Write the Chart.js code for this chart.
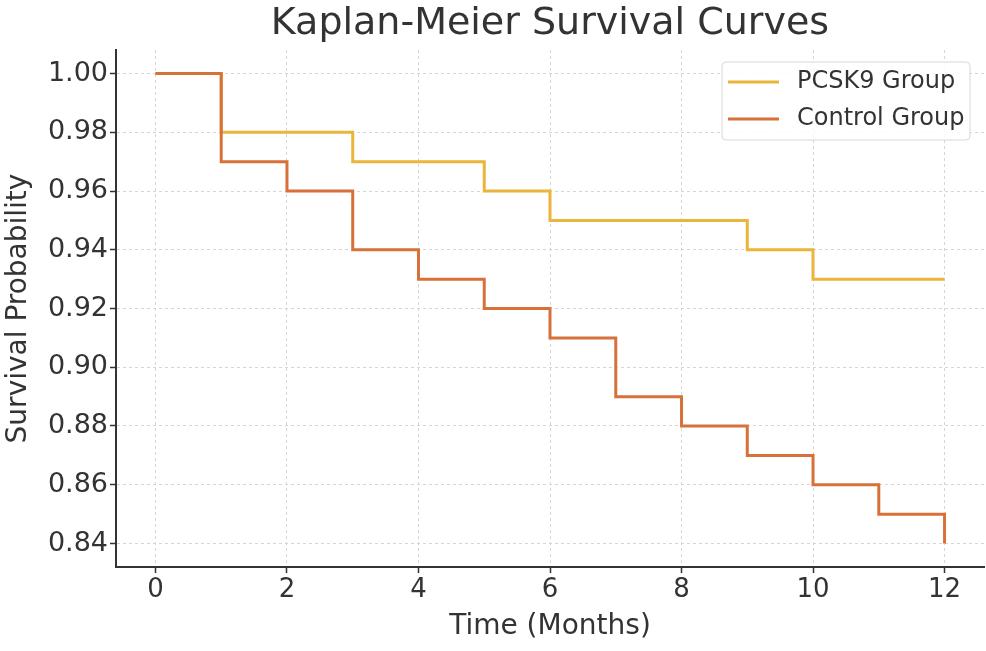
<!DOCTYPE html>
<html>
<head>
<meta charset="utf-8">
<script src="https://cdn.jsdelivr.net/npm/chart.js@4"></script>
<style>
  html, body { margin: 0; padding: 0; background: #fff; }
  #wrap { width: 986px; height: 651px; }
</style>
</head>
<body>
<div id="wrap"><canvas id="km-chart" width="986" height="651"></canvas></div>
<script>
// Data
const months = [0, 1, 2, 3, 4, 5, 6, 7, 8, 9, 10, 11, 12];
const pcsk9Survival = [1.00, 0.98, 0.98, 0.97, 0.97, 0.96, 0.95, 0.95, 0.95, 0.94, 0.93, 0.93, 0.93];
const controlSurvival = [1.00, 0.97, 0.96, 0.94, 0.93, 0.92, 0.91, 0.89, 0.88, 0.87, 0.86, 0.85, 0.84];
const xTicks = [0, 2, 4, 6, 8, 10, 12];
const yTicks = [0.84, 0.86, 0.88, 0.90, 0.92, 0.94, 0.96, 0.98, 1.00];

const FONT = "'DejaVu Sans', sans-serif";
const TEXT = '#333333';

function toPoints(xs, ys) {
    return xs.map((x, i) => ({ x: x, y: ys[i] }));
}

// Boxed legend in the upper right, like matplotlib's
const boxLegend = {
    id: 'boxLegend',
    afterDraw(chart) {
        const ctx = chart.ctx;
        const x = 722, y = 62, w = 248, h = 78;
        ctx.save();
        ctx.fillStyle = 'rgba(255,255,255,0.85)';
        ctx.strokeStyle = '#d8d8d8';
        ctx.lineWidth = 1;
        ctx.beginPath();
        ctx.roundRect(x, y, w, h, 4);
        ctx.fill();
        ctx.stroke();
        ctx.font = '24px ' + FONT;
        ctx.textBaseline = 'middle';
        chart.data.datasets.forEach((ds, i) => {
            const rowY = y + 20 + i * 37;
            ctx.strokeStyle = ds.borderColor;
            ctx.lineWidth = 3;
            ctx.beginPath();
            ctx.moveTo(x + 6, rowY);
            ctx.lineTo(x + 57, rowY);
            ctx.stroke();
            ctx.fillStyle = TEXT;
            ctx.fillText(ds.label, x + 75, rowY);
        });
        ctx.restore();
    }
};

new Chart(document.getElementById('km-chart'), {
    type: 'line',
    data: {
        datasets: [{
            label: 'PCSK9 Group',
            data: toPoints(months, pcsk9Survival),
            borderColor: '#ebb43a',
            borderWidth: 3,
            stepped: 'before',
            pointRadius: 0,
            fill: false,
            order: 1
        }, {
            label: 'Control Group',
            data: toPoints(months, controlSurvival),
            borderColor: '#d8703a',
            borderWidth: 3,
            stepped: 'before',
            pointRadius: 0,
            fill: false,
            order: 0
        }]
    },
    options: {
        responsive: false,
        animation: false,
        layout: { padding: { left: 0, right: 2, top: 0, bottom: 0 } },
        plugins: {
            legend: { display: false },
            tooltip: { enabled: false },
            title: {
                display: true,
                fullSize: false,
                text: 'Kaplan-Meier Survival Curves',
                color: TEXT,
                font: { family: FONT, size: 38, weight: 'normal' },
                padding: { top: 1, bottom: 3.4 }
            }
        },
        scales: {
            x: {
                type: 'linear',
                min: -0.6,
                max: 12.6,
                afterBuildTicks: (scale) => { scale.ticks = xTicks.map(v => ({ value: v })); },
                afterFit: (scale) => { scale.height = 84; },
                ticks: {
                    color: TEXT,
                    font: { family: FONT, size: 26 },
                    padding: 2,
                    maxRotation: 0
                },
                grid: {
                    color: '#d6d6d6',
                    lineWidth: 1,
                    tickLength: 6,
                    tickColor: '#333333',
                    tickWidth: 1.5
                },
                border: { display: true, color: '#333333', width: 2, dash: [3, 3] },
                title: {
                    display: true,
                    text: 'Time (Months)',
                    color: TEXT,
                    font: { family: FONT, size: 28 },
                    padding: { top: 0, bottom: 7 }
                }
            },
            y: {
                min: 0.832,
                max: 1.008,
                afterBuildTicks: (scale) => { scale.ticks = yTicks.map(v => ({ value: v })); },
                afterFit: (scale) => { scale.width = 116; },
                ticks: {
                    color: TEXT,
                    font: { family: FONT, size: 27 },
                    padding: 2,
                    callback: (v) => Number(v).toFixed(2)
                },
                grid: {
                    color: '#d6d6d6',
                    lineWidth: 1,
                    tickLength: 6,
                    tickColor: '#333333',
                    tickWidth: 1.5
                },
                border: { display: true, color: '#333333', width: 2, dash: [3, 3] },
                title: {
                    display: true,
                    text: 'Survival Probability',
                    color: TEXT,
                    font: { family: FONT, size: 28 },
                    padding: { top: 2, bottom: 0 }
                }
            }
        }
    },
    plugins: [boxLegend]
});
</script>
</body>
</html>
